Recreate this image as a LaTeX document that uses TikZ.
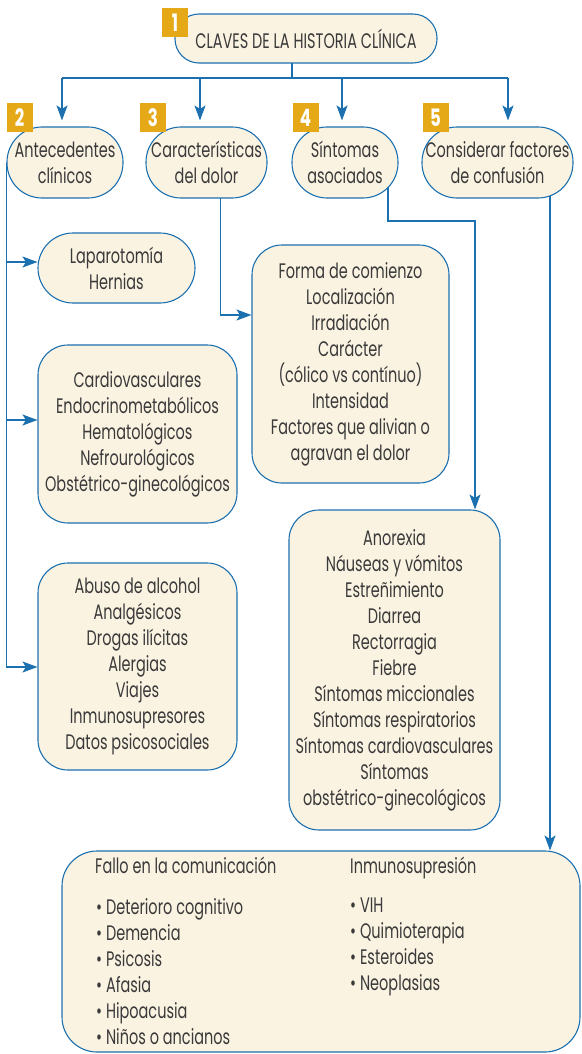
\documentclass[tikz,border=0pt]{standalone}
\usepackage{fontspec}
\setmainfont{Poppins}[FakeStretch=0.69]
\usetikzlibrary{arrows.meta,backgrounds}

\definecolor{lineblue}{RGB}{27,112,176}
\definecolor{boxcream}{RGB}{251,243,226}
\definecolor{badgegold}{RGB}{229,168,22}
\definecolor{textgray}{RGB}{58,58,58}

\tikzset{
  keybox/.style={draw=lineblue, fill=boxcream, line width=1.1pt, text=textgray,
    align=center, inner sep=0pt, font=\fontsize{21}{26}\selectfont},
  numbadge/.style={fill=badgegold, text=white, minimum width=26pt, minimum height=29pt,
    inner sep=0pt, font=\bfseries\fontsize{24}{24}\selectfont},
  listtext/.style={text=textgray, align=left, inner sep=0pt, font=\fontsize{21}{26}\selectfont},
  link/.style={draw=lineblue, line width=1.1pt},
  tip/.style={link, -{Stealth[length=15pt,width=11pt,inset=3.5pt]}},
}

\begin{document}
\begin{tikzpicture}[line cap=round, line join=round, x=1pt, y=-1pt]
  \useasboundingbox (0,0) rectangle (581,1054);

  % top and the five keys
  \node[keybox, rounded corners=24pt, minimum width=262pt, minimum height=49pt] (title) at (306,38.5) {CLAVES DE LA HISTORIA CLÍNICA};
  \node[keybox, rounded corners=35pt, minimum width=116pt, minimum height=71pt] (box2) at (65,162.5) {Antecedentes\\clínicos};
  \node[keybox, rounded corners=35pt, minimum width=121pt, minimum height=71pt] (box3) at (206.5,162.5) {Características\\del dolor};
  \node[keybox, rounded corners=35pt, minimum width=106pt, minimum height=71pt] (box4) at (345,162.5) {Síntomas\\asociados};
  \node[keybox, rounded corners=35pt, minimum width=151pt, minimum height=71pt] (box5) at (497.5,162.5) {Considerar factores\\de confusión};

  \node[numbadge] (b1) at (175,22.5) {1};
  \node[numbadge] (b2) at (19.5,118) {2};
  \node[numbadge] (b3) at (153,118) {3};
  \node[numbadge] (b4) at (305.5,118) {4};
  \node[numbadge] (b5) at (435.5,118) {5};

  % left column
  \node[keybox, rounded corners=35pt, minimum width=157pt, minimum height=70pt] (lap) at (116.5,268) {Laparotomía\\Hernias};
  \node[keybox, rounded corners=30pt, minimum width=199pt, minimum height=178pt] (cardio) at (137.5,434) {Cardiovasculares\\Endocrinometabólicos\\Hematológicos\\Nefrourológicos\\Obstétrico-ginecológicos};
  \node[keybox, rounded corners=30pt, minimum width=199pt, minimum height=207pt] (abuso) at (137.5,666.5) {Abuso de alcohol\\Analgésicos\\Drogas ilícitas\\Alergias\\Viajes\\Inmunosupresores\\Datos psicosociales};

  % right column
  \node[keybox, rounded corners=30pt, minimum width=197pt, minimum height=238pt] (forma) at (350.5,364) {Forma de comienzo\\Localización\\Irradiación\\Carácter\\(cólico vs contínuo)\\Intensidad\\Factores que alivian o\\agravan el dolor};
  \node[keybox, rounded corners=30pt, minimum width=211pt, minimum height=320pt] (anorexia) at (394.5,670) {Anorexia\\Náuseas y vómitos\\Estreñimiento\\Diarrea\\Rectorragia\\Fiebre\\Síntomas miccionales\\Síntomas respiratorios\\Síntomas cardiovasculares\\Síntomas\\obstétrico-ginecológicos};

  % confusion factors
  \node[keybox, rounded corners=35pt, minimum width=518pt, minimum height=201pt] (bottom) at (321,951.5) {};
  \node[listtext, anchor=base west] (fallo) at (95,873) {Fallo en la comunicación};
  \node[listtext, anchor=base west] (inmuno) at (350,873) {Inmunosupresión};
  \node[listtext, anchor=north west] (falloitems) at (96,898) {\textbullet\ Deterioro cognitivo\\\textbullet\ Demencia\\\textbullet\ Psicosis\\\textbullet\ Afasia\\\textbullet\ Hipoacusia\\\textbullet\ Niños o ancianos};
  \node[listtext, anchor=north west] (inmunoitems) at (350,898) {\textbullet\ VIH\\\textbullet\ Quimioterapia\\\textbullet\ Esteroides\\\textbullet\ Neoplasias};

  \coordinate (busl) at (62,78);
  \coordinate (busr) at (508,78);
  \coordinate (busm) at (292,78);

  \begin{scope}[on background layer]
    \draw[link] (title.center -| busm) -- (busm);
    \draw[link] (busl) -- (busr);
    \draw[tip, shorten >=6pt] (busl) -- (box2.north -| busl);
    \draw[tip, shorten >=6pt] (busl -| 200,0) -- (box3.north -| 200,0);
    \draw[tip, shorten >=6pt] (busl -| 342,0) -- (box4.north -| 342,0);
    \draw[tip, shorten >=6pt] (busr) -- (box5.north -| busr);

    \draw[link] (box2.west) -- ([yshift=-0.5pt]box2.west |- abuso.west);
    \draw[tip] ([yshift=6pt]box2.west |- lap.west) -- ([yshift=6pt]lap.west);
    \draw[tip] ([yshift=14pt]box2.west |- cardio.west) -- ([yshift=14pt]cardio.west);
    \draw[tip] ([yshift=-0.5pt]box2.west |- abuso.west) -- ([yshift=-0.5pt]abuso.west);

    \draw[tip] ([xshift=14pt]box3.center) |- ([yshift=49pt]forma.west);
    \draw[tip] ([xshift=43pt]box4.center) |- (475,221) -- (anorexia.north -| 475,0);
    \draw[tip] ([xshift=52.5pt]box5.center) -- ([xshift=52.5pt]box5.center |- bottom.north);
  \end{scope}
\end{tikzpicture}
\end{document}
